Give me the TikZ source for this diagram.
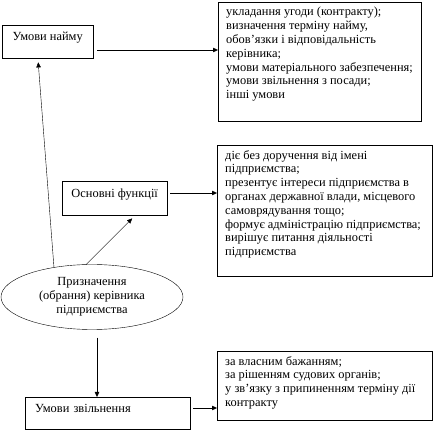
\documentclass[tikz,border=0pt]{standalone}
\usepackage{fontspec}
\setmainfont{Liberation Serif}
\usetikzlibrary{arrows.meta,shapes.geometric}

\begin{document}
\begin{tikzpicture}[
  x=1pt, y=-1pt,
  font=\fontsize{12.4}{13.8}\selectfont,
  box/.style={draw, anchor=north west, inner sep=0pt, text height=9pt, text depth=11pt},
  listbox/.style={draw, anchor=north west, inner xsep=8pt, inner ysep=5pt},
  arr/.style={-{Triangle[length=5pt,width=4.5pt]}, draw, thin}
]
\useasboundingbox (0,0) rectangle (434,430);

% left column
\node[box, minimum width=91pt, minimum height=33pt] (hire) at (2,25) {Умови найму};
\node[box, minimum width=105pt, minimum height=34pt] (func) at (62,181) {Основні функції};
\node[draw, ellipse, minimum width=182pt, minimum height=65pt, inner sep=0pt, align=center]
      (appoint) at (92,297) {Призначення\\(обрання) керівника\\підприємства};
\node[box, inner xsep=10pt, minimum height=32pt, text width=145pt, align=left] (fire) at (25,397) {Умови звільнення};

% right column
\node[listbox] (hirelist) at (218,2) {\parbox[t][109pt][t]{187pt}{%
  укладання угоди (контракту);\\
  визначення терміну найму,\\
  обов’язки і відповідальність\\
  керівника;\\
  умови матеріального забезпечення;\\
  умови звільнення з посади;\\
  інші умови}};
\node[listbox] (funclist) at (217,145) {\parbox[t][121pt][t]{199pt}{%
  діє без доручення від імені\\
  підприємства;\\
  презентує інтереси підприємства в\\
  органах державної влади, місцевого\\
  самоврядування тощо;\\
  формує адміністрацію підприємства;\\
  вирішує питання діяльності\\
  підприємства}};
\node[listbox] (firelist) at (217,351) {\parbox[t][59pt][t]{199pt}{%
  за власним бажанням;\\
  за рішенням судових органів;\\
  у зв’язку з припиненням терміну дії\\
  контракту}};

\draw[arr, shorten <=4pt] (hire.east |- 0,50) -- (hirelist.west |- 0,50);
\draw[arr, shorten <=3pt] (func.east |- 0,193) -- (funclist.west |- 0,193);
\draw[arr, shorten <=3pt] (fire.east |- 0,408) -- (firelist.west |- 0,408);
\draw[arr] (appoint.142) -- ([xshift=-9.5pt,yshift=-4pt]hire.south);
\draw[arr] (appoint.100) -- ([xshift=17.5pt,yshift=-3pt]func.south);
\draw[arr] ([xshift=5pt,yshift=-8pt]appoint.south) -- ([xshift=5pt]appoint.south |- fire.north);
\end{tikzpicture}
\end{document}
